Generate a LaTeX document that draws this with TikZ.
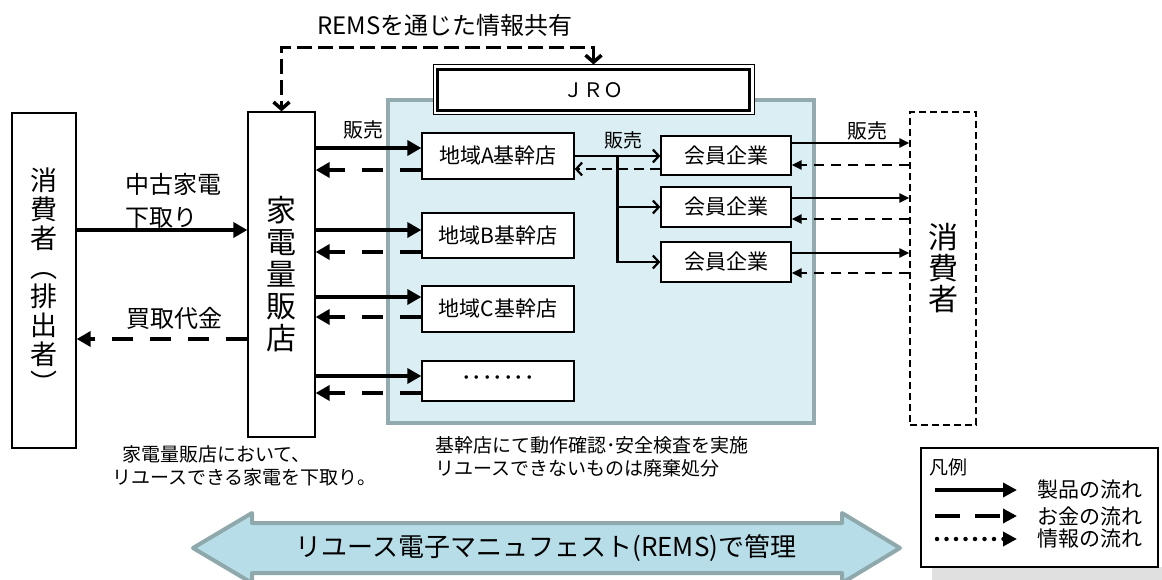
\documentclass[tikz,border=0pt]{standalone}
\usepackage{fontspec}
\setmainfont{Noto Sans CJK JP}
\usetikzlibrary{arrows.meta,positioning,calc}

\definecolor{zonefill}{HTML}{DBEEF3}
\definecolor{zoneline}{HTML}{93AAAE}
\definecolor{bandfill}{HTML}{B7DEE8}
\definecolor{bandline}{HTML}{8EA8AC}

\begin{document}
\begin{tikzpicture}[
  x=1pt, y=-1pt,
  box/.style={
    rectangle,
    draw=black,
    line width=1.3pt,
    fill=white,
    inner sep=0pt,
    text centered
  },
  tall/.style={box, align=center, font=\fontsize{30pt}{32pt}\selectfont},
  store/.style={box, minimum width=152pt, font=\fontsize{21pt}{24pt}\selectfont},
  member/.style={box, minimum width=130pt, font=\fontsize{21pt}{24pt}\selectfont},
  tag/.style={inner sep=0pt, font=\fontsize{20pt}{24pt}\selectfont},
  prod/.style={-{Triangle[length=14pt,width=15pt]}, line width=4.5pt},
  money/.style={prod, dash pattern=on 21pt off 17pt},
  sale/.style={-{Straight Barb[length=6pt,width=13pt,line width=2.2pt]}, line width=2.5pt},
  salemoney/.style={sale, dash pattern=on 10pt off 6pt},
  retail/.style={-{Triangle[length=10pt,width=9pt]}, line width=2.5pt},
  retailmoney/.style={retail, dash pattern=on 10pt off 7pt},
  info/.style={
    {Straight Barb[length=7pt,width=16pt,line width=3.5pt]}-{Straight Barb[length=7pt,width=16pt,line width=3.5pt]},
    line width=3.2pt,
    dash pattern=on 15pt off 6pt
  }
]
\useasboundingbox (0,0) rectangle (1162,580);

% background zone of JRO
\node[draw=zoneline, line width=4pt, fill=zonefill, minimum width=426pt, minimum height=323pt, inner sep=0pt] (zone) at (601,261.5) {};

% main boxes
\node[box, minimum width=64pt, minimum height=335pt, align=center, font=\fontsize{27pt}{29pt}\selectfont] (donor) at (44,280.5) {消\\費\\者\\︵\\排\\出\\者\\︶};
\node[tall, minimum width=67pt, minimum height=325pt] (kaden) at (281.5,274.5) {家\\電\\量\\販\\店};
\node[box, dash pattern=on 7pt off 4pt, minimum width=66pt, minimum height=313pt, align=center, font=\fontsize{30pt}{31pt}\selectfont] (buyer) at (943,268.5) {消\\費\\者};

\node[box, line width=1pt, minimum width=321pt, minimum height=50pt, font=\fontsize{20pt}{24pt}\selectfont] (jro) at (593.5,90) {ＪＲＯ};
\draw[line width=3.5pt] ([shift={(5pt,-5pt)}]jro.north west) rectangle ([shift={(-5pt,5pt)}]jro.south east);

\node[store, minimum height=46pt] (storeA) at (498,156) {地域A基幹店};
\node[store, minimum height=45pt] (storeB) at (498,235.5) {地域B基幹店};
\node[store, minimum height=46pt] (storeC) at (498,309) {地域C基幹店};
\node[store, minimum height=40pt] (storeD) at (498,381) {･･･････};

\node[member, minimum height=39pt] (member1) at (726,155.5) {会員企業};
\node[member, minimum height=40pt] (member2) at (726,207) {会員企業};
\node[member, minimum height=40pt] (member3) at (726,262) {会員企業};

% consumer <-> kaden
\coordinate (tradein) at ([yshift=44.5pt]kaden.west);
\coordinate (payout) at ([yshift=-64.5pt]kaden.west);
\draw[prod] (donor.east |- tradein) -- (tradein);
\draw[money] (payout) -- (donor.east |- payout);

% kaden <-> stores
\foreach \s/\up/\dn in {storeA/8pt/-14pt, storeB/5.5pt/-16.5pt, storeC/12pt/-8pt, storeD/5pt/-12pt}{
  \coordinate (sin) at ([yshift=\up]\s.west);
  \coordinate (sout) at ([yshift=\dn]\s.west);
  \draw[prod] (kaden.east |- sin) -- (sin);
  \draw[money] (sout) -- (kaden.east |- sout);
}

% store A -> members
\coordinate (fork) at ([xshift=43pt]storeA.east);
\coordinate (mret) at ([yshift=-13.5pt]member1.west);
\draw[sale] (storeA.east) -- (storeA.east -| member1.west);
\draw[sale] (fork) |- (member2.west);
\draw[sale] (fork) |- (member3.west);
\draw[salemoney] (mret) -- (storeA.east |- mret);

% members <-> consumer
\foreach \m/\up/\dn in {member1/12.5pt/-9.5pt, member2/9pt/-12pt, member3/9pt/-11pt}{
  \coordinate (mout) at ([yshift=\up]\m.east);
  \coordinate (mback) at ([yshift=\dn]\m.east);
  \draw[retail] (mout) -- (buyer.west |- mout);
  \draw[retailmoney] (buyer.west |- mback) -- (mback);
}

% REMS information
\draw[info] (jro.north) -- ++(0,-17) -| (kaden.north);
\node[tag, font=\fontsize{24pt}{28pt}\selectfont] (remstext) at (445,25) {REMSを通じた情報共有};

% labels
\node[tag] (sale1) at (363,130) {販売};
\node[tag, font=\fontsize{19pt}{22pt}\selectfont] (sale2) at (623,140) {販売};
\node[tag] (sale3) at (867,131) {販売};
\node[tag, anchor=west, align=left, font=\fontsize{24pt}{33pt}\selectfont] (tradetext) at (125,200.5) {中古家電\\下取り};
\node[tag, font=\fontsize{24pt}{28pt}\selectfont] (paytext) at (174,318) {買取代金};

\node[tag, anchor=west, font=\fontsize{19pt}{22pt}\selectfont] (kadennote1) at (122,454) {家電量販店において、};
\node[tag, anchor=west, font=\fontsize{19pt}{22pt}\selectfont] (kadennote2) at (112,477) {リユースできる家電を下取り。};
\node[tag, anchor=west, font=\fontsize{19pt}{22pt}\selectfont] (zonenote1) at (435,445) {基幹店にて動作確認･安全検査を実施};
\node[tag, anchor=west, font=\fontsize{19pt}{22pt}\selectfont] (zonenote2) at (435,468) {リユースできないものは廃棄処分};

% REMS band
\draw[bandline, fill=bandfill, line width=4pt, line join=round] (193,548) -- (252,513) -- (252,523) -- (842,523) -- (842,513) -- (900,548) -- (842,583) -- (842,573) -- (252,573) -- (252,583) -- cycle;
\node[tag, font=\fontsize{26pt}{30pt}\selectfont] (bandtext) at (546,548) {リユース電子マニュフェスト(REMS)で管理};

% legend
\fill[black!12] (932,567) rectangle (1162,580);
\node[box, minimum width=237pt, minimum height=119pt] (legend) at (1039.5,507.5) {};
\node[tag, anchor=west, font=\fontsize{19pt}{22pt}\selectfont] (legendtitle) at (929,467) {凡例};
\node[tag, anchor=west, font=\fontsize{21pt}{24pt}\selectfont] (lgprod) at (1037,490) {製品の流れ};
\node[tag, anchor=west, font=\fontsize{21pt}{24pt}\selectfont] (lgmoney) at (1037,516) {お金の流れ};
\node[tag, anchor=west, font=\fontsize{21pt}{24pt}\selectfont] (lginfo) at (1037,539) {情報の流れ};
\coordinate (lgp) at (935,490);
\coordinate (lgm) at (935,516);
\coordinate (lgi) at (937,539);
\draw[-{Triangle[length=14pt,width=14pt]}, line width=4pt] (lgp) -- ([xshift=-20pt]lgprod.west);
\draw[-{Triangle[length=14pt,width=14pt]}, line width=4.5pt, dash pattern=on 25pt off 15pt] (lgm) -- ([xshift=-20pt]lgmoney.west);
\draw[-{Triangle[length=14pt,width=14pt]}, line width=4.5pt, line cap=round, dash pattern=on 0pt off 9.5pt] (lgi) -- ([xshift=-20pt]lginfo.west);

\end{tikzpicture}
\end{document}
